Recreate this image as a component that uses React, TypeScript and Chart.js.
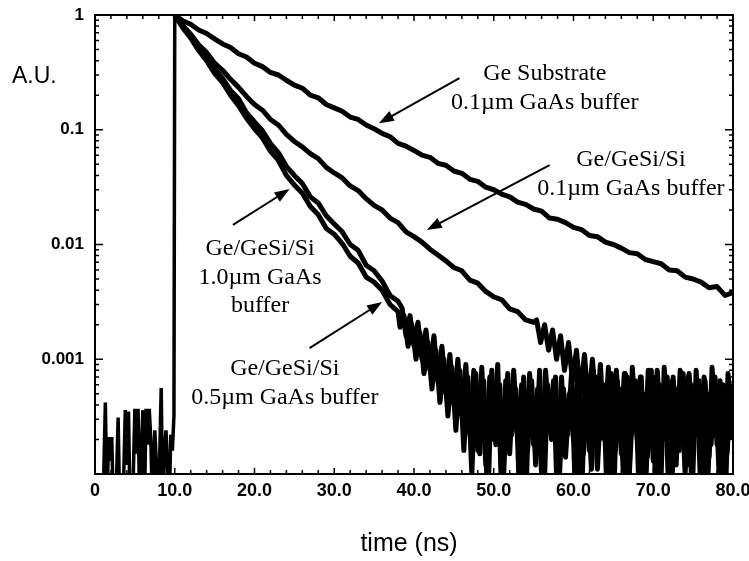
import React, { useEffect, useRef } from 'react';
import { Chart, registerables } from 'chart.js';

Chart.register(...registerables);

// ---- data (time in ns, intensity in A.U.) ----
const preTimes = [0.0, 0.5, 1.0, 1.3, 1.5, 1.7, 1.9, 2.1, 2.3, 2.6, 2.9, 3.1, 3.5, 3.8, 4.0, 4.2, 4.4, 4.7, 5.0, 5.2, 5.4, 5.6, 5.8, 6.0, 6.2, 6.4, 6.6, 6.8, 7.0, 7.2, 7.5, 7.7, 7.9, 8.1, 8.3, 8.5, 8.7, 8.9, 9.1, 9.3, 9.5, 9.7, 9.9, 10.0];
const preCounts = [5e-5, 5e-5, 5e-5, 4.2e-4, 5e-5, 2.1e-4, 1.3e-4, 2.1e-4, 5e-5, 5e-5, 3.1e-4, 5e-5, 5e-5, 3.6e-4, 1.2e-4, 3.5e-4, 5e-5, 5e-5, 3.7e-4, 1.5e-4, 3.7e-4, 5e-5, 1.5e-4, 3.6e-4, 5e-5, 3.7e-4, 1.8e-4, 3.7e-4, 2e-4, 5e-5, 2.4e-4, 1.2e-4, 5e-5, 1.3e-4, 5.6e-4, 5e-5, 1.6e-4, 2.4e-4, 1.1e-4, 5e-5, 2.2e-4, 1.6e-4, 3.2e-4, 1];

// Ge substrate, 0.1um GaAs buffer: t = 10..80 every 1 ns
const geSubstrate = [1.0, 0.89, 0.83, 0.74, 0.69, 0.62, 0.56, 0.52, 0.46, 0.43, 0.38, 0.355, 0.316, 0.30, 0.27, 0.245, 0.23, 0.20, 0.19, 0.166, 0.155, 0.145, 0.129, 0.123, 0.11, 0.102, 0.093, 0.087, 0.076, 0.072, 0.066, 0.060, 0.0575, 0.051, 0.049, 0.0437, 0.0417, 0.037, 0.0355, 0.0316, 0.030, 0.0275, 0.026, 0.0234, 0.0224, 0.0204, 0.0195, 0.017, 0.0166, 0.0155, 0.0141, 0.0135, 0.012, 0.0117, 0.0105, 0.010, 0.0093, 0.0085, 0.0083, 0.0074, 0.0071, 0.0068, 0.006, 0.0059, 0.0052, 0.005, 0.0047, 0.0042, 0.0043, 0.0036, 0.0038];

// Ge/GeSi/Si, 0.1um GaAs buffer: t = 10..55 every 1 ns, then 55.375..79.875 every 0.5 ns
const geSi01Decay = [1, 0.81, 0.68, 0.55, 0.47, 0.38, 0.33, 0.275, 0.234, 0.195, 0.166, 0.148, 0.123, 0.11, 0.091, 0.079, 0.071, 0.062, 0.056, 0.047, 0.042, 0.038, 0.0324, 0.0295, 0.0251, 0.0219, 0.020, 0.017, 0.0155, 0.0129, 0.0117, 0.0105, 0.0091, 0.0081, 0.0072, 0.0063, 0.0059, 0.0049, 0.0046, 0.0039, 0.0035, 0.0033, 0.00275, 0.0026, 0.0022, 0.0021];
const geSi01Tail = [2.2e-3, 1.4e-3, 2.0e-3, 1.2e-3, 1.8e-3, 1.0e-3, 1.6e-3, 8e-4, 1.4e-3, 6.5e-4, 1.2e-3, 5e-4, 1.1e-3, 4e-4, 1.0e-3, 3e-4, 9e-4, 2e-4, 8.5e-4, 1.2e-4, 8e-4, 2.0e-4, 7.5e-4, 6e-5, 8.5e-4, 2.4e-4, 7e-4, 1.3e-4, 8e-4, 2.0e-4, 7e-4, 5e-5, 8.5e-4, 2.2e-4, 6.5e-4, 1.2e-4, 8e-4, 2.4e-4, 7e-4, 6e-5, 8e-4, 1.8e-4, 7e-4, 1.0e-4, 8.5e-4, 2.2e-4, 6.5e-4, 5e-5, 7.5e-4, 2.0e-4];

// Ge/GeSi/Si, 1.0um GaAs buffer: t = 10..38 every 1 ns, then 38.5..80 every 0.5 ns
const geSi10Decay = [1, 0.79, 0.66, 0.51, 0.43, 0.34, 0.28, 0.22, 0.186, 0.141, 0.117, 0.098, 0.076, 0.063, 0.048, 0.040, 0.034, 0.026, 0.023, 0.0178, 0.0151, 0.0129, 0.0100, 0.0089, 0.0066, 0.0059, 0.0048, 0.0036, 0.0032];
const geSi10Tail = [2.8e-3, 1.6e-3, 2.4e-3, 1.3e-3, 2.1e-3, 1.0e-3, 1.8e-3, 8e-4, 1.6e-3, 6.3e-4, 1.3e-3, 5e-4, 1.1e-3, 4e-4, 1.0e-3, 3.2e-4, 9e-4, 2.2e-4, 8e-4, 1.6e-4, 8.5e-4, 1.2e-4, 7e-4, 2.0e-4, 9e-4, 6e-5, 6.5e-4, 1.5e-4, 8e-4, 2.2e-4, 6e-4, 5e-5, 7.5e-4, 1.8e-4, 5.5e-4, 1.0e-4, 8e-4, 2.5e-4, 6.5e-4, 5e-5, 7e-4, 1.4e-4, 5e-4, 2.0e-4, 7.5e-4, 6e-5, 6e-4, 1.6e-4, 8e-4, 1.1e-4, 5.5e-4, 2.2e-4, 7e-4, 5e-5, 6.5e-4, 1.5e-4, 7.5e-4, 1.0e-4, 5e-4, 2.0e-4, 7e-4, 6e-5, 6e-4, 1.3e-4, 8e-4, 2.2e-4, 5.5e-4, 5e-5, 7e-4, 1.6e-4, 6e-4, 1.0e-4, 7.5e-4, 2.0e-4, 5e-4, 6e-5, 6.5e-4, 1.4e-4, 7e-4, 1.8e-4, 5.5e-4, 5e-5, 6.5e-4, 2.0e-4];

// Ge/GeSi/Si, 0.5um GaAs buffer: t = 10..38 every 1 ns, then 38.25..79.75 every 0.5 ns
const geSi05Decay = [1, 0.776, 0.63, 0.49, 0.40, 0.31, 0.257, 0.20, 0.162, 0.126, 0.102, 0.085, 0.065, 0.054, 0.040, 0.033, 0.028, 0.0214, 0.0182, 0.0138, 0.0123, 0.0102, 0.0079, 0.0069, 0.0052, 0.0047, 0.004, 0.003, 0.0026];
const geSi05Tail = [1.9e-3, 2.4e-3, 1.3e-3, 2.0e-3, 1.0e-3, 1.7e-3, 7.5e-4, 1.4e-3, 5.5e-4, 1.2e-3, 4.2e-4, 1.0e-3, 3.2e-4, 8.5e-4, 2.4e-4, 8e-4, 1.6e-4, 7e-4, 1.0e-4, 7.5e-4, 1.5e-4, 6.5e-4, 5e-5, 8e-4, 1.8e-4, 6e-4, 1.0e-4, 7.5e-4, 2.2e-4, 5.5e-4, 6e-5, 7e-4, 1.6e-4, 6.5e-4, 1.2e-4, 8e-4, 5e-5, 6e-4, 2.0e-4, 7e-4, 1.0e-4, 5.5e-4, 2.2e-4, 7.5e-4, 6e-5, 6.5e-4, 1.5e-4, 5e-4, 1.1e-4, 7e-4, 2.0e-4, 6e-4, 5e-5, 7.5e-4, 1.6e-4, 5.5e-4, 1.0e-4, 7e-4, 2.2e-4, 6.5e-4, 6e-5, 5e-4, 1.4e-4, 8e-4, 1.0e-4, 6e-4, 2.0e-4, 7e-4, 5e-5, 5.5e-4, 1.6e-4, 7.5e-4, 1.2e-4, 6e-4, 2.2e-4, 6.5e-4, 6e-5, 5e-4, 1.8e-4, 7e-4, 1.0e-4, 6e-4, 1.5e-4, 5.5e-4];

// axis ticks
const xTickValues = [0, 10, 20, 30, 40, 50, 60, 70, 80];
const xTickLabels = ['0', '10.0', '20.0', '30.0', '40.0', '50.0', '60.0', '70.0', '80.0'];
const yTickValues = [1e-4, 1e-3, 1e-2, 1e-1, 1];
const yTickLabels = ['', '0.001', '0.01', '0.1', '1'];
const xTitle = 'time (ns)';
const yTitle = 'A.U.';

// annotations (anchors in data units: time ns, A.U.)
const noteLines = [
  ['Ge Substrate', '0.1\u00b5m GaAs buffer'],
  ['Ge/GeSi/Si', '0.1\u00b5m GaAs buffer'],
  ['Ge/GeSi/Si', '1.0\u00b5m GaAs', 'buffer'],
  ['Ge/GeSi/Si', '0.5\u00b5m GaAs buffer'],
];
const noteT = [56.4, 67.2, 20.7, 23.8];
const noteV = [0.271, 0.0483, 0.00809, 0.000727];
const arrowFromT = [45.7, 57.0, 17.3, 26.9];
const arrowFromV = [0.282, 0.0492, 0.0148, 0.00125];
const arrowToT = [35.6, 41.6, 24.4, 36.0];
const arrowToV = [0.114, 0.0134, 0.0304, 0.00315];

function timeGrid(from: number, to: number, step: number): number[] {
  const out: number[] = [];
  for (let t = from; t <= to + 1e-9; t += step) out.push(Math.round(t * 1000) / 1000);
  return out;
}

function toPoints(times: number[], values: number[]) {
  return values.map((v, i) => ({ x: times[i], y: v }));
}

function drawArrow(ctx: CanvasRenderingContext2D, x1: number, y1: number, x2: number, y2: number) {
  const ang = Math.atan2(y2 - y1, x2 - x1);
  const L = 15;
  const W = 5.5;
  const c = Math.cos(ang);
  const s = Math.sin(ang);
  ctx.lineWidth = 2;
  ctx.beginPath();
  ctx.moveTo(x1, y1);
  ctx.lineTo(x2 - L * 0.8 * c, y2 - L * 0.8 * s);
  ctx.stroke();
  ctx.beginPath();
  ctx.moveTo(x2, y2);
  ctx.lineTo(x2 - L * c + W * s, y2 - L * s - W * c);
  ctx.lineTo(x2 - L * c - W * s, y2 - L * s + W * c);
  ctx.closePath();
  ctx.fill();
}

const framePlugin = {
  id: 'frameAndNotes',
  afterDatasetsDraw(chart: any) {
    const { ctx, chartArea: a, scales } = chart;
    const xs = scales.x;
    const ys = scales.y;
    ctx.save();
    ctx.strokeStyle = '#000';
    ctx.fillStyle = '#000';
    // frame
    ctx.lineWidth = 2;
    ctx.strokeRect(a.left, a.top, a.right - a.left, a.bottom - a.top);
    // inward tick marks
    ctx.lineWidth = 1.5;
    ctx.beginPath();
    for (let t = 0; t <= 80; t += 2) {
      const px = xs.getPixelForValue(t);
      const len = t % 10 === 0 ? 6 : 4;
      ctx.moveTo(px, a.bottom);
      ctx.lineTo(px, a.bottom - len);
      ctx.moveTo(px, a.top);
      ctx.lineTo(px, a.top + len);
    }
    for (let k = -4; k <= 0; k++) {
      for (let m = 1; m <= 9; m++) {
        const v = m * Math.pow(10, k);
        if (v > 1.0001) break;
        const py = ys.getPixelForValue(v);
        const len = m === 1 ? 8 : 4;
        ctx.moveTo(a.left, py);
        ctx.lineTo(a.left + len, py);
        ctx.moveTo(a.right, py);
        ctx.lineTo(a.right - len, py);
      }
    }
    ctx.stroke();

    // arrows
    for (let i = 0; i < noteLines.length; i++) {
      drawArrow(
        ctx,
        xs.getPixelForValue(arrowFromT[i]),
        ys.getPixelForValue(arrowFromV[i]),
        xs.getPixelForValue(arrowToT[i]),
        ys.getPixelForValue(arrowToV[i])
      );
    }
    // annotation text
    ctx.font = '24px "Liberation Serif"';
    ctx.textAlign = 'center';
    ctx.textBaseline = 'alphabetic';
    for (let i = 0; i < noteLines.length; i++) {
      const cx = xs.getPixelForValue(noteT[i]);
      const cy = ys.getPixelForValue(noteV[i]);
      noteLines[i].forEach((line, j) => ctx.fillText(line, cx, cy + j * 28.5));
    }
    // axis titles
    ctx.font = '23px "Liberation Sans"';
    ctx.textAlign = 'left';
    ctx.fillText(yTitle, 12, 83);
    ctx.font = '25px "Liberation Sans"';
    ctx.textAlign = 'center';
    ctx.fillText(xTitle, (a.left + a.right) / 2 - 5, 551);
    ctx.restore();
  },
};

export default function App() {
  const canvasRef = useRef<HTMLCanvasElement | null>(null);

  useEffect(() => {
    const canvas = canvasRef.current;
    if (!canvas) return;

    const line = { borderColor: '#000', backgroundColor: '#000', borderWidth: 5, pointRadius: 0, tension: 0, fill: false, clip: 0, borderJoinStyle: 'round' };

    const chart = new Chart(canvas, {
      type: 'line',
      data: {
        datasets: [
          { ...line, borderWidth: 3.5, borderJoinStyle: 'miter', label: 'background', data: toPoints(preTimes, preCounts) },
          { ...line, label: 'Ge Substrate 0.1um', data: toPoints(timeGrid(10, 80, 1), geSubstrate) },
          { ...line, label: 'Ge/GeSi/Si 0.1um', data: toPoints([...timeGrid(10, 55, 1), ...timeGrid(55.375, 79.875, 0.5)], [...geSi01Decay, ...geSi01Tail]) },
          { ...line, label: 'Ge/GeSi/Si 1.0um', data: toPoints([...timeGrid(10, 38, 1), ...timeGrid(38.5, 80, 0.5)], [...geSi10Decay, ...geSi10Tail]) },
          { ...line, label: 'Ge/GeSi/Si 0.5um', data: toPoints([...timeGrid(10, 38, 1), ...timeGrid(38.25, 79.75, 0.5)], [...geSi05Decay, ...geSi05Tail]) },
        ] as any,
      },
      options: {
        animation: false,
        responsive: false,
        devicePixelRatio: 1,
        layout: { padding: { top: 15, right: 16, left: 0, bottom: 0 } },
        plugins: { legend: { display: false }, tooltip: { enabled: false } },
        scales: {
          x: {
            type: 'linear',
            min: 0,
            max: 80,
            grid: { display: false, drawTicks: false },
            border: { display: false },
            afterBuildTicks: (s: any) => {
              s.ticks = xTickValues.map((v) => ({ value: v }));
            },
            ticks: {
              autoSkip: false,
              maxRotation: 0,
              padding: 6,
              color: '#000',
              font: { family: 'Liberation Sans', weight: 'bold', size: 18 },
              callback: (v: any) => {
                const i = xTickValues.indexOf(Number(v));
                return i >= 0 ? xTickLabels[i] : '';
              },
            },
            afterFit: (s: any) => {
              s.height = 87;
              s.paddingLeft = 0;
              s.paddingRight = 0;
            },
          },
          y: {
            type: 'logarithmic',
            min: 1e-4,
            max: 1,
            grid: { display: false, drawTicks: false },
            border: { display: false },
            afterBuildTicks: (s: any) => {
              s.ticks = yTickValues.map((v) => ({ value: v }));
            },
            ticks: {
              autoSkip: false,
              padding: 11,
              color: '#000',
              font: { family: 'Liberation Sans', weight: 'bold', size: 17 },
              callback: (v: any) => {
                const i = yTickValues.findIndex((t) => Math.abs(t - Number(v)) < t * 1e-6);
                return i >= 0 ? yTickLabels[i] : '';
              },
            },
            afterFit: (s: any) => {
              s.width = 95;
              s.paddingTop = 0;
              s.paddingBottom = 0;
            },
          },
        },
      } as any,
      plugins: [framePlugin],
    });

    return () => chart.destroy();
  }, []);

  return (
    <div style={{ position: 'absolute', left: 0, top: 0, width: 749, height: 561, background: '#fff' }}>
      <canvas ref={canvasRef} width={749} height={561} />
    </div>
  );
}
